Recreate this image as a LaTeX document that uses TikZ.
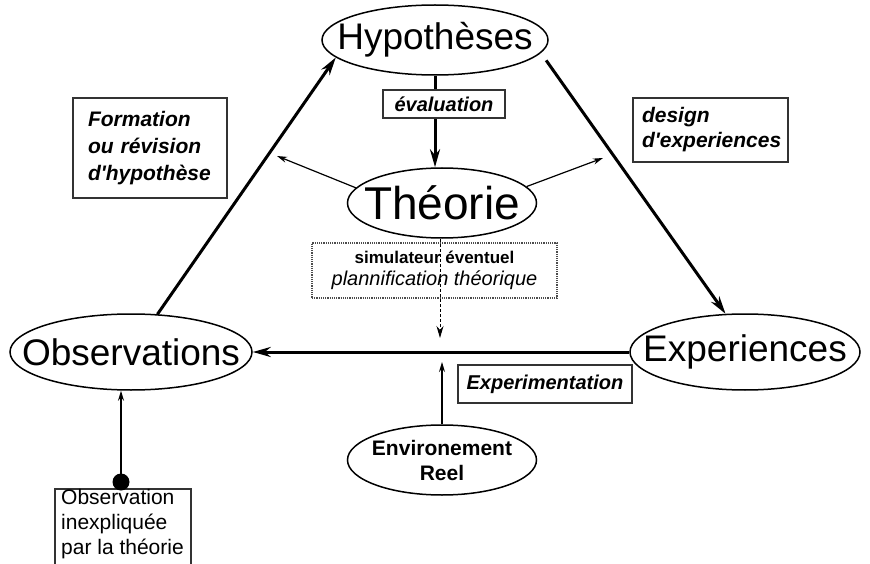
\documentclass[tikz,border=0pt]{standalone}
\usepackage{fontspec}
\setmainfont{Liberation Sans}
\usetikzlibrary{shapes.geometric,arrows.meta}
\newcommand{\fs}[1]{\fontsize{#1}{#1}\selectfont}
\tikzset{
  ell/.style={ellipse, draw, line width=1.5pt, inner sep=0pt, fill=white},
  lbox/.style={draw=black!80, line width=1.5pt, fill=white, inner ysep=3pt, align=left},
  bigarrow/.style={line width=3pt, -{Stealth[length=18pt,width=10pt]}},
  thinarrow/.style={line width=1.2pt, -{Stealth[length=10pt,width=6pt]}},
}
\begin{document}
\begin{tikzpicture}[x=1pt,y=-1pt]
\clip (0,0) rectangle (870,564);
\fill[white] (0,0) rectangle (870,564);
% main ellipses
\node[ell, minimum width=226, minimum height=70, label={[font=\fs{37}]center:Hypothèses}] (hyp) at (435,40) {};
\node[ell, minimum width=189, minimum height=70, label={[font=\fs{46}]center:Théorie}] (theo) at (442,203) {};
\node[ell, minimum width=242, minimum height=76, label={[font=\fs{37}]center:Observations}] (obs) at (131,352) {};
\node[ell, minimum width=230, minimum height=76, label={[font=\fs{37}]center:Experiences}] (exp) at (745,352) {};
\node[ell, minimum width=189, minimum height=70, label={[font=\bfseries\fontsize{21}{25}\selectfont, align=center]center:Environement\\Reel}] (env) at (442,460) {};
% free ends
\coordinate (tl) at (277,156);
\coordinate (tr) at (603,158);
\coordinate (simend) at (440,338);
\coordinate (envend) at (442,362);
% connectors
\draw[bigarrow] (obs.55) -- (hyp.190);
\draw[bigarrow, shorten <=9pt] (hyp.-7.5) -- (exp.117);
\draw[bigarrow] (exp.west) -- (obs.east);
\draw[line width=3pt, -{Stealth[length=18pt,width=10pt]}] (hyp.south) -- (hyp.south |- theo.north);
\draw[thinarrow] (theo.170) -- (tl);
\draw[thinarrow] (theo.11) -- (tr);
\draw[thinarrow] (env.north) -- (envend);
% label boxes
\node[lbox, font=\bfseries\itshape\fs{20}, minimum width=122, minimum height=28, inner xsep=4pt, align=center] (eval) at (444,104) {évaluation};
\node[lbox, font=\bfseries\itshape\fontsize{21}{27}\selectfont, text width=124, inner xsep=15pt, minimum height=100] (form) at (150,148) {Formation\\ou révision\\d\textquotesingle hypothèse};
\node[lbox, font=\bfseries\itshape\fontsize{21}{25}\selectfont, text width=137, inner xsep=9pt, minimum height=64] (design) at (710.5,130) {design\\d\textquotesingle experiences};
\node[lbox, font=\bfseries\itshape\fs{20}, minimum width=174, minimum height=38, inner xsep=3pt, align=center] (xp) at (545,384) {Experimentation};
\node[draw=black!70, densely dotted, line width=1.2pt, fill=white, minimum width=245, minimum height=55, align=center, inner sep=2pt] (sim) at (434.5,270.5)
  {{\bfseries\fs{17}simulateur éventuel}\\[6pt]{\itshape\fs{20}plannification théorique}};
\draw[line width=1pt, densely dashed, -{Stealth[length=12pt,width=7pt]}] (simend |- theo.south) -- (simend);
% unexplained observation
\node[draw=black!80, line width=1.5pt, minimum width=136, minimum height=120, anchor=north west] (obsbox) at (54,488) {};
\node[font=\fontsize{21}{25}\selectfont, align=left, anchor=north west, inner sep=0pt] (obstext) at (61,489) {Observation\\inexpliquée\\par la théorie};
\node[circle, fill=black, inner sep=0pt, minimum size=17] (dot) at (121,482) {};
\draw[line width=1.3pt, -{Stealth[length=10pt,width=6pt]}] (dot.center) -- (dot.center |- obs.south);
\end{tikzpicture}
\end{document}
